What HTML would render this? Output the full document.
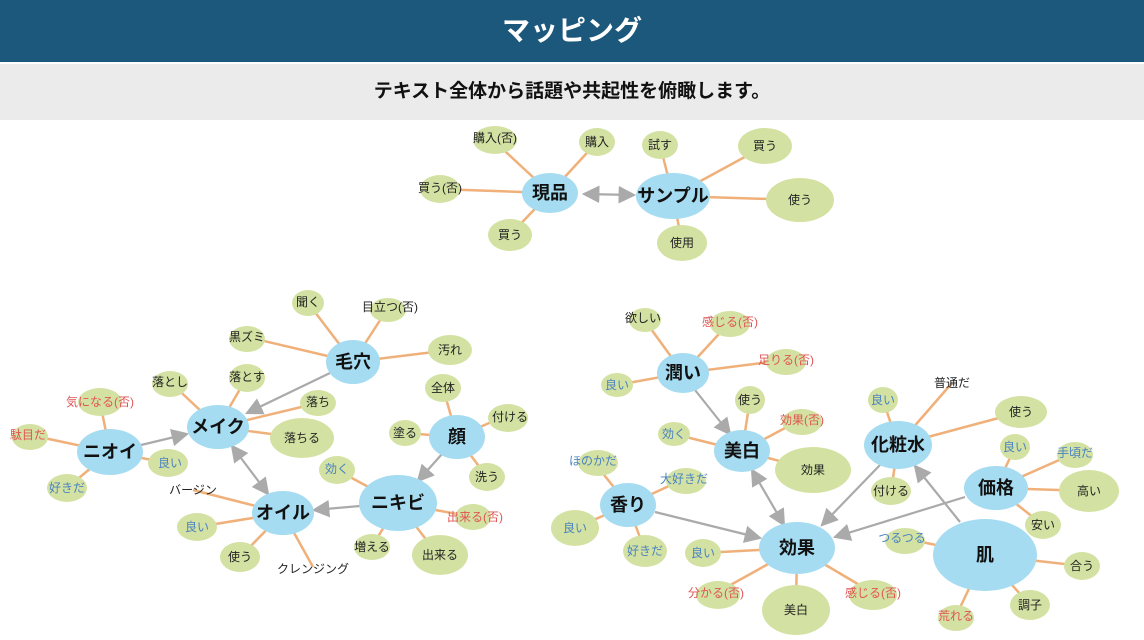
<!DOCTYPE html>
<html><head><meta charset="utf-8"><style>
body{margin:0;width:1144px;height:640px;background:#fff;overflow:hidden;font-family:"Liberation Sans","Noto Sans CJK JP",sans-serif}
.h{position:absolute;left:0;top:0;width:1144px;height:62px;background:#1c587b;color:#fff;font-weight:bold;font-size:28px;text-align:center;line-height:62px}
.s{position:absolute;left:0;top:64px;width:1144px;height:56px;background:#ebebeb;color:#111;font-weight:bold;font-size:19px;text-align:center;line-height:56px}
svg{position:absolute;left:0;top:0}
.l line{stroke:#f0b07a;stroke-width:2.5}
.a line{stroke:#aaa;stroke-width:2.2}
.hub{fill:#a5dcf1}.lf{fill:#d3e2a2}
text{font-family:"Liberation Sans","Noto Sans CJK JP",sans-serif;text-anchor:middle;dominant-baseline:central}
.ht{font-size:18px;font-weight:bold;fill:#111}
.t{font-size:12px;fill:#222}.r{fill:#e05454}.b{fill:#4a82c2}
</style></head><body>
<div class="h">マッピング</div>
<div class="s">テキスト全体から話題や共起性を俯瞰します。</div>
<svg width="1144" height="640">
<defs><marker id="m" markerWidth="8" markerHeight="8" refX="7" refY="4" orient="auto-start-reverse"><path d="M0,0L8,4L0,8z" fill="#aaa"/></marker></defs>
<g class="l">
<line x1="550" y1="193" x2="493" y2="140"/><line x1="550" y1="193" x2="597" y2="142"/><line x1="550" y1="193" x2="437" y2="189"/><line x1="550" y1="193" x2="510" y2="235"/>
<line x1="673" y1="196" x2="660" y2="145"/><line x1="673" y1="196" x2="765" y2="146"/><line x1="673" y1="196" x2="800" y2="200"/><line x1="673" y1="196" x2="682" y2="243"/>
<line x1="353" y1="362" x2="308" y2="303"/><line x1="353" y1="362" x2="388" y2="308"/><line x1="353" y1="362" x2="247" y2="337"/><line x1="353" y1="362" x2="450" y2="350"/>
<line x1="218" y1="427" x2="170" y2="382"/><line x1="218" y1="427" x2="247" y2="377"/><line x1="218" y1="427" x2="318" y2="403"/><line x1="218" y1="427" x2="302" y2="438"/>
<line x1="110" y1="452" x2="100" y2="402"/><line x1="110" y1="452" x2="30" y2="435"/><line x1="110" y1="452" x2="168" y2="463"/><line x1="110" y1="452" x2="67" y2="488"/>
<line x1="283" y1="513" x2="193" y2="490"/><line x1="283" y1="513" x2="197" y2="527"/><line x1="283" y1="513" x2="240" y2="557"/><line x1="283" y1="513" x2="313" y2="567"/>
<line x1="398" y1="503" x2="337" y2="470"/><line x1="398" y1="503" x2="372" y2="547"/><line x1="398" y1="503" x2="438" y2="555"/><line x1="398" y1="503" x2="473" y2="517"/>
<line x1="457" y1="437" x2="443" y2="388"/><line x1="457" y1="437" x2="405" y2="433"/><line x1="457" y1="437" x2="503" y2="417"/><line x1="457" y1="437" x2="487" y2="477"/>
<line x1="683" y1="373" x2="643" y2="318"/><line x1="683" y1="373" x2="730" y2="322"/><line x1="683" y1="373" x2="786" y2="360"/><line x1="683" y1="373" x2="617" y2="385"/>
<line x1="742" y1="451" x2="750" y2="400"/><line x1="742" y1="451" x2="800" y2="420"/><line x1="742" y1="451" x2="674" y2="434"/><line x1="742" y1="451" x2="813" y2="470"/>
<line x1="628" y1="505" x2="593" y2="461"/><line x1="628" y1="505" x2="684" y2="479"/><line x1="628" y1="505" x2="575" y2="528"/><line x1="628" y1="505" x2="645" y2="551"/>
<line x1="797" y1="548" x2="703" y2="553"/><line x1="797" y1="548" x2="716" y2="593"/><line x1="797" y1="548" x2="796" y2="610"/><line x1="797" y1="548" x2="873" y2="593"/>
<line x1="898" y1="445" x2="883" y2="400"/><line x1="898" y1="445" x2="952" y2="383"/><line x1="898" y1="445" x2="1021" y2="412"/><line x1="898" y1="445" x2="891" y2="491"/>
<line x1="996" y1="488" x2="1015" y2="447"/><line x1="996" y1="488" x2="1075" y2="453"/><line x1="996" y1="488" x2="1089" y2="491"/><line x1="996" y1="488" x2="1043" y2="525"/>
<line x1="985" y1="555" x2="902" y2="538"/><line x1="985" y1="555" x2="1082" y2="566"/><line x1="985" y1="555" x2="1030" y2="605"/><line x1="985" y1="555" x2="956" y2="616"/>
</g>
<g class="lf">
<ellipse cx="495" cy="140" rx="22" ry="14"/><ellipse cx="597" cy="142" rx="18" ry="14"/><ellipse cx="440" cy="189" rx="20" ry="14"/><ellipse cx="510" cy="235" rx="22" ry="16"/>
<ellipse cx="660" cy="145" rx="18" ry="14"/><ellipse cx="765" cy="146" rx="27" ry="18"/><ellipse cx="800" cy="200" rx="34" ry="22"/><ellipse cx="682" cy="243" rx="25" ry="18"/>
<ellipse cx="308" cy="303" rx="16" ry="13"/><ellipse cx="388" cy="310" rx="18" ry="12"/><ellipse cx="247" cy="339" rx="18" ry="13"/><ellipse cx="450" cy="350" rx="22" ry="15"/>
<ellipse cx="170" cy="384" rx="18" ry="13"/><ellipse cx="247" cy="378" rx="18" ry="14"/><ellipse cx="318" cy="403" rx="18" ry="13"/><ellipse cx="302" cy="438" rx="32" ry="20"/>
<ellipse cx="100" cy="402" rx="22" ry="14"/><ellipse cx="30" cy="437" rx="18" ry="13"/><ellipse cx="168" cy="463" rx="20" ry="14"/><ellipse cx="67" cy="488" rx="20" ry="14"/>
<ellipse cx="197" cy="527" rx="20" ry="14"/><ellipse cx="240" cy="557" rx="20" ry="15"/>
<ellipse cx="337" cy="470" rx="18" ry="14"/><ellipse cx="372" cy="547" rx="18" ry="13"/><ellipse cx="440" cy="555" rx="28" ry="20"/><ellipse cx="473" cy="517" rx="18" ry="13"/>
<ellipse cx="443" cy="388" rx="18" ry="14"/><ellipse cx="405" cy="433" rx="16" ry="13"/><ellipse cx="508" cy="418" rx="20" ry="14"/><ellipse cx="487" cy="477" rx="18" ry="14"/>
<ellipse cx="645" cy="320" rx="16" ry="12"/><ellipse cx="730" cy="324" rx="20" ry="13"/><ellipse cx="786" cy="362" rx="20" ry="13"/><ellipse cx="617" cy="385" rx="16" ry="12"/>
<ellipse cx="750" cy="400" rx="15" ry="14"/><ellipse cx="802" cy="422" rx="20" ry="13"/><ellipse cx="674" cy="434" rx="16" ry="12"/><ellipse cx="813" cy="470" rx="38" ry="23"/>
<ellipse cx="598" cy="463" rx="20" ry="13"/><ellipse cx="686" cy="481" rx="20" ry="13"/><ellipse cx="575" cy="528" rx="24" ry="18"/><ellipse cx="645" cy="551" rx="22" ry="16"/>
<ellipse cx="703" cy="553" rx="18" ry="14"/><ellipse cx="718" cy="595" rx="22" ry="14"/><ellipse cx="796" cy="610" rx="34" ry="25"/><ellipse cx="873" cy="595" rx="24" ry="15"/>
<ellipse cx="883" cy="400" rx="15" ry="13"/><ellipse cx="1021" cy="412" rx="26" ry="16"/><ellipse cx="891" cy="491" rx="20" ry="14"/>
<ellipse cx="1015" cy="447" rx="15" ry="13"/><ellipse cx="1075" cy="455" rx="18" ry="13"/><ellipse cx="1089" cy="491" rx="30" ry="21"/><ellipse cx="1043" cy="525" rx="18" ry="14"/>
<ellipse cx="905" cy="541" rx="20" ry="13"/><ellipse cx="1082" cy="566" rx="18" ry="14"/><ellipse cx="1030" cy="605" rx="20" ry="15"/><ellipse cx="956" cy="618" rx="18" ry="13"/>
</g>
<g class="a">
<line x1="584" y1="194" x2="634" y2="195" marker-start="url(#m)" marker-end="url(#m)"/>
<line x1="330" y1="373" x2="247" y2="413" marker-end="url(#m)"/>
<line x1="141" y1="445" x2="187" y2="434" marker-end="url(#m)"/>
<line x1="232" y1="446" x2="268" y2="494" marker-start="url(#m)" marker-end="url(#m)"/>
<line x1="360" y1="506" x2="314" y2="510" marker-end="url(#m)"/>
<line x1="442" y1="454" x2="418" y2="481" marker-end="url(#m)"/>
<line x1="695" y1="390" x2="730" y2="434" marker-end="url(#m)"/>
<line x1="752" y1="470" x2="784" y2="525" marker-start="url(#m)" marker-end="url(#m)"/>
<line x1="655" y1="512" x2="760" y2="538" marker-end="url(#m)"/>
<line x1="880" y1="465" x2="822" y2="525" marker-end="url(#m)"/>
<line x1="965" y1="497" x2="835" y2="537" marker-end="url(#m)"/>
<line x1="960" y1="522" x2="915" y2="466" marker-end="url(#m)"/>
</g>
<g class="hub">
<ellipse cx="550" cy="193" rx="28" ry="20"/><ellipse cx="673" cy="196" rx="37" ry="23"/>
<ellipse cx="353" cy="362" rx="27" ry="22"/><ellipse cx="218" cy="427" rx="31" ry="22"/><ellipse cx="110" cy="452" rx="33" ry="23"/>
<ellipse cx="283" cy="513" rx="31" ry="22"/><ellipse cx="398" cy="503" rx="39" ry="28"/><ellipse cx="457" cy="437" rx="28" ry="22"/>
<ellipse cx="683" cy="373" rx="26" ry="20"/><ellipse cx="742" cy="451" rx="28" ry="21"/><ellipse cx="628" cy="505" rx="28" ry="22"/>
<ellipse cx="797" cy="548" rx="38" ry="26"/><ellipse cx="898" cy="445" rx="34" ry="24"/><ellipse cx="996" cy="488" rx="32" ry="22"/><ellipse cx="985" cy="555" rx="52" ry="36"/>
</g>
<g class="ht">
<text x="550" y="193">現品</text><text x="673" y="196">サンプル</text>
<text x="353" y="362">毛穴</text><text x="218" y="427">メイク</text><text x="110" y="452">ニオイ</text>
<text x="283" y="513">オイル</text><text x="398" y="503">ニキビ</text><text x="457" y="437">顔</text>
<text x="683" y="373">潤い</text><text x="742" y="451">美白</text><text x="628" y="505">香り</text>
<text x="797" y="548">効果</text><text x="898" y="445">化粧水</text><text x="996" y="488">価格</text><text x="985" y="555">肌</text>
</g>
<g class="t">
<text x="495" y="138">購入(否)</text><text x="597" y="142">購入</text><text x="440" y="188">買う(否)</text><text x="510" y="235">買う</text>
<text x="660" y="145">試す</text><text x="765" y="146">買う</text><text x="800" y="200">使う</text><text x="682" y="243">使用</text>
<text x="308" y="302">聞く</text><text x="390" y="307">目立つ(否)</text><text x="247" y="337">黒ズミ</text><text x="450" y="350">汚れ</text>
<text x="170" y="382">落とし</text><text x="247" y="377">落とす</text><text x="318" y="402">落ち</text><text x="302" y="438">落ちる</text>
<text class="r" x="100" y="402">気になる(否)</text><text class="r" x="28" y="435">駄目だ</text><text class="b" x="170" y="463">良い</text><text class="b" x="67" y="488">好きだ</text>
<text x="193" y="490">バージン</text><text class="b" x="197" y="527">良い</text><text x="240" y="557">使う</text><text x="313" y="569">クレンジング</text>
<text class="b" x="337" y="469">効く</text><text x="372" y="547">増える</text><text x="440" y="555">出来る</text><text class="r" x="475" y="517">出来る(否)</text>
<text x="443" y="388">全体</text><text x="405" y="433">塗る</text><text x="510" y="417">付ける</text><text x="487" y="477">洗う</text>
<text x="643" y="318">欲しい</text><text class="r" x="730" y="322">感じる(否)</text><text class="r" x="786" y="360">足りる(否)</text><text class="b" x="617" y="385">良い</text>
<text x="750" y="400">使う</text><text class="r" x="802" y="420">効果(否)</text><text class="b" x="674" y="434">効く</text><text x="813" y="470">効果</text>
<text class="b" x="593" y="461">ほのかだ</text><text class="b" x="684" y="479">大好きだ</text><text class="b" x="575" y="528">良い</text><text class="b" x="645" y="551">好きだ</text>
<text class="b" x="703" y="553">良い</text><text class="r" x="716" y="593">分かる(否)</text><text x="796" y="610">美白</text><text class="r" x="873" y="593">感じる(否)</text>
<text class="b" x="883" y="400">良い</text><text x="952" y="383">普通だ</text><text x="1021" y="412">使う</text><text x="891" y="491">付ける</text>
<text class="b" x="1015" y="447">良い</text><text class="b" x="1075" y="453">手頃だ</text><text x="1089" y="491">高い</text><text x="1043" y="525">安い</text>
<text class="b" x="902" y="538">つるつる</text><text x="1082" y="566">合う</text><text x="1030" y="605">調子</text><text class="r" x="956" y="616">荒れる</text>
</g>
</svg>
</body></html>
